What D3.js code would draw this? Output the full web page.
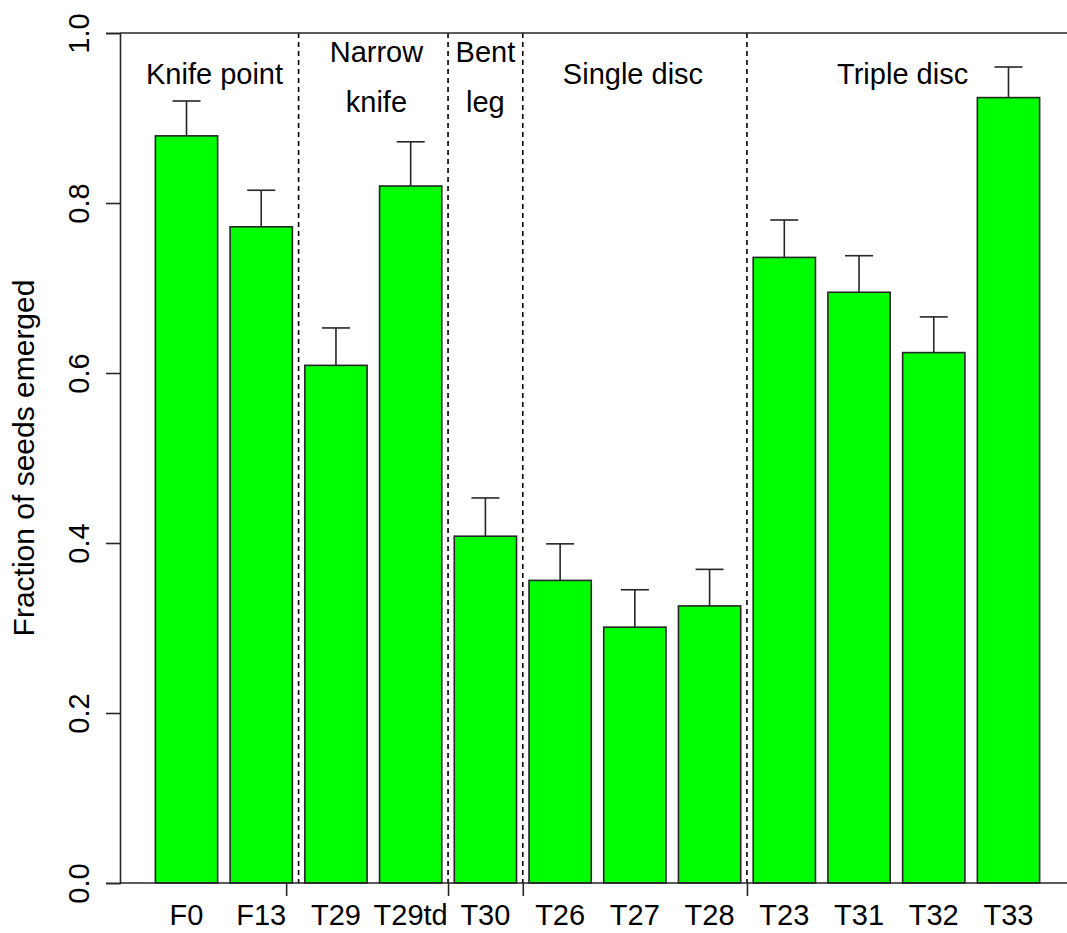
<!DOCTYPE html>
<html>
<head>
<meta charset="utf-8">
<script src="https://cdn.jsdelivr.net/npm/d3@7"></script>
<style>
  html, body { margin: 0; padding: 0; background: #fff; }
  svg { display: block; }
  text { font-family: "Liberation Sans", Arial, Helvetica, sans-serif; fill: #000; }
</style>
</head>
<body>
<svg id="chart" width="1067" height="933"></svg>
<script>
// ---- data ----
const categories = ["F0", "F13", "T29", "T29td", "T30", "T26", "T27", "T28", "T23", "T31", "T32", "T33"];
const values     = [0.879, 0.772, 0.609, 0.820, 0.408, 0.356, 0.301, 0.326, 0.736, 0.695, 0.624, 0.924];
const upperErr   = [0.920, 0.815, 0.653, 0.872, 0.453, 0.399, 0.345, 0.369, 0.780, 0.738, 0.666, 0.960];
const groupNames = ["Knife point", "Narrow\nknife", "Bent\nleg", "Single disc", "Triple disc"];
const groupFirst = [0, 2, 4, 5, 8];          // index of first bar in each group
const groupLabelPos = [1.15, 3.75, 5.5, 7.87, 12.2]; // label centre, in barplot units
const xTickPos   = [2.3, 4.9, 6.1, 9.7];     // bottom axis ticks, in barplot units
const yTicks     = [0.0, 0.2, 0.4, 0.6, 0.8, 1.0];
const yTitle     = "Fraction of seeds emerged";

// ---- layout ----
const svg = d3.select("#chart");
const plot = { left: 120, right: 1075, top: 33, bottom: 883 };
const barW = 1, space = 0.2;
const n = categories.length;
const xMax = n * (barW + space);
const ext = 0.04 * (xMax - space);
const x = d3.scaleLinear().domain([space - ext, xMax + ext]).range([plot.left, plot.right]);
const y = d3.scaleLinear().domain([0, 1]).range([plot.bottom, plot.top]);
const barLeft = i => space + i * (barW + space);
const barCenter = i => barLeft(i) + barW / 2;
const fontSize = 29;
const ink = "#262626";

// bars
svg.append("g").selectAll("rect").data(values).join("rect")
  .attr("x", (d, i) => x(barLeft(i)))
  .attr("width", x(barW) - x(0))
  .attr("y", d => y(d))
  .attr("height", d => y(0) - y(d))
  .attr("fill", "#00ff00")
  .attr("stroke", ink)
  .attr("stroke-width", 1.6);

// error bars (upper only)
const capHalf = 0.225;
const eg = svg.append("g").attr("stroke", ink).attr("stroke-width", 1.6);
eg.selectAll("line.v").data(values).join("line").attr("class", "v")
  .attr("x1", (d, i) => x(barCenter(i))).attr("x2", (d, i) => x(barCenter(i)))
  .attr("y1", d => y(d)).attr("y2", (d, i) => y(upperErr[i]));
eg.selectAll("line.h").data(upperErr).join("line").attr("class", "h")
  .attr("x1", (d, i) => x(barCenter(i) - capHalf)).attr("x2", (d, i) => x(barCenter(i) + capHalf))
  .attr("y1", d => y(d)).attr("y2", d => y(d));

// group dividers (dashed)
const dividers = groupFirst.slice(1).map(i => barLeft(i) - space / 2);
svg.append("g").selectAll("line").data(dividers).join("line")
  .attr("x1", d => x(d)).attr("x2", d => x(d))
  .attr("y1", y(1)).attr("y2", y(0))
  .attr("stroke", "#000").attr("stroke-width", 1.6)
  .attr("stroke-dasharray", "5,4");

// box: top & bottom lines
svg.append("line").attr("x1", plot.left).attr("x2", 1067).attr("y1", y(1)).attr("y2", y(1)).attr("stroke", ink).attr("stroke-width", 1.6);
svg.append("line").attr("x1", plot.left).attr("x2", 1067).attr("y1", y(0)).attr("y2", y(0)).attr("stroke", ink).attr("stroke-width", 1.6);

// y axis
const yAxis = d3.axisLeft(y).tickValues(yTicks).tickFormat(d3.format(".1f")).tickSize(14).tickPadding(0);
const ya = svg.append("g").attr("transform", `translate(${plot.left},0)`).call(yAxis);
ya.select(".domain").attr("stroke", ink).attr("stroke-width", 1.6);
ya.selectAll(".tick line").attr("stroke", ink).attr("stroke-width", 1.6);
ya.selectAll(".tick text")
  .attr("font-size", fontSize)
  .attr("font-family", "'Liberation Sans', Arial, sans-serif")
  .attr("fill", "#000")
  .attr("text-anchor", "middle")
  .attr("dy", 0)
  .attr("x", 0)
  .attr("transform", "translate(-31,0) rotate(-90)");

// x axis: category labels
svg.append("g").selectAll("text").data(categories).join("text")
  .attr("x", (d, i) => x(barCenter(i)))
  .attr("y", 925)
  .attr("text-anchor", "middle")
  .attr("font-size", fontSize)
  .text(d => d);

// bottom ticks
const xAxis = d3.axisBottom(x).tickValues(xTickPos).tickSize(13).tickFormat("");
const xa = svg.append("g").attr("transform", `translate(0,${plot.bottom})`).call(xAxis);
xa.select(".domain").remove();
xa.selectAll(".tick line").attr("stroke", ink).attr("stroke-width", 1.6);

// group labels
const gl = svg.append("g");
groupNames.forEach((name, k) => {
  const lines = name.split("\n");
  const t = gl.append("text")
    .attr("x", x(groupLabelPos[k]))
    .attr("text-anchor", "middle")
    .attr("font-size", fontSize);
  if (lines.length === 1) {
    t.attr("y", 84).text(lines[0]);
  } else {
    lines.forEach((ln, j) => {
      t.append("tspan").attr("x", x(groupLabelPos[k])).attr("y", 62 + j * 50).text(ln);
    });
  }
});

// y title
svg.append("text")
  .attr("transform", `translate(34,${(y(0) + y(1)) / 2}) rotate(-90)`)
  .attr("text-anchor", "middle")
  .attr("font-size", 30)
  .text(yTitle);
</script>
</body>
</html>
